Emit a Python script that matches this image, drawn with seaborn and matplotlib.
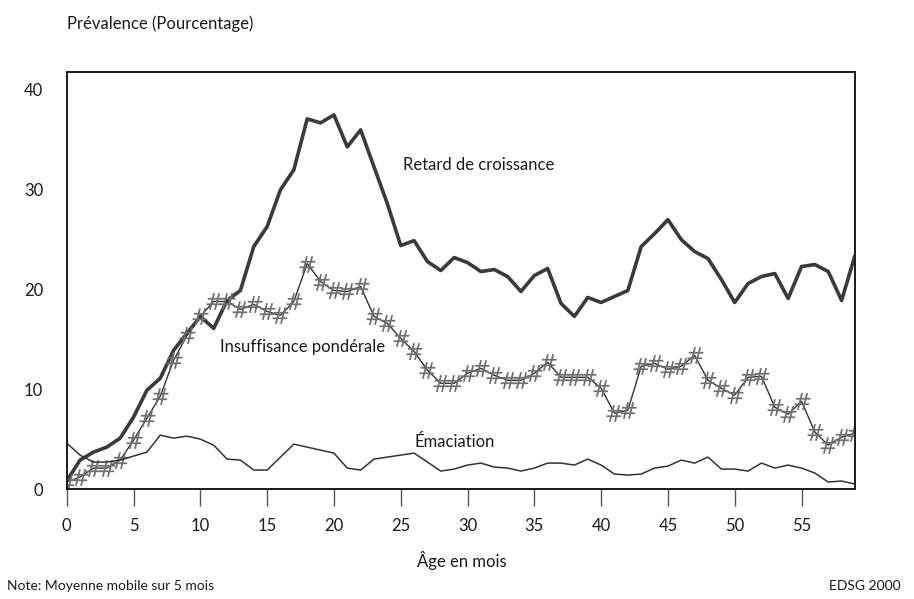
import numpy as np
import pandas as pd
import matplotlib
matplotlib.use("Agg")
import matplotlib.pyplot as plt
import seaborn as sns

months = list(range(0, 60))

retard = [0.8, 2.9, 3.7, 4.2, 5.1, 7.2, 9.9, 11.1, 13.9, 15.6,
          17.3, 16.1, 18.9, 19.9, 24.3, 26.3, 30.0, 32.0, 37.1, 36.7,
          37.5, 34.3, 36.0, 32.3, 28.6, 24.4, 24.9, 22.8, 21.9, 23.2,
          22.7, 21.8, 22.0, 21.3, 19.8, 21.4, 22.1, 18.6, 17.3, 19.2,
          18.7, 19.3, 19.9, 24.3, 25.6, 27.0, 25.0, 23.8, 23.1, 21.0,
          18.7, 20.6, 21.3, 21.6, 19.1, 22.3, 22.5, 21.8, 18.9, 23.4]

insuffisance = [0.7, 1.2, 2.1, 2.1, 2.9, 4.9, 7.1, 9.3, 12.9, 15.4,
                17.3, 18.8, 18.8, 18.0, 18.5, 17.8, 17.4, 18.8, 22.6, 20.8,
                19.9, 19.8, 20.3, 17.3, 16.6, 15.1, 13.8, 11.9, 10.6, 10.6,
                11.6, 12.1, 11.4, 10.9, 10.9, 11.6, 12.7, 11.2, 11.2, 11.2,
                10.1, 7.6, 7.9, 12.3, 12.6, 12.0, 12.3, 13.4, 10.9, 10.1,
                9.4, 11.2, 11.3, 8.2, 7.5, 8.8, 5.7, 4.4, 5.2, 5.6]

emaciation = [4.6, 3.4, 2.7, 2.7, 2.9, 3.3, 3.7, 5.4, 5.1, 5.3,
              5.0, 4.4, 3.0, 2.9, 1.9, 1.9, 3.2, 4.5, 4.2, 3.9,
              3.6, 2.1, 1.9, 3.0, 3.2, 3.4, 3.6, 2.7, 1.8, 2.0,
              2.4, 2.6, 2.2, 2.1, 1.8, 2.1, 2.6, 2.6, 2.4, 3.0,
              2.4, 1.5, 1.4, 1.5, 2.1, 2.3, 2.9, 2.6, 3.2, 2.0,
              2.0, 1.8, 2.6, 2.1, 2.4, 2.1, 1.6, 0.7, 0.8, 0.5]

x_ticks = [0, 5, 10, 15, 20, 25, 30, 35, 40, 45, 50, 55]
y_ticks = [0, 10, 20, 30, 40]

sns.set_style("white")
plt.rcParams['font.family'] = ['Lato', 'DejaVu Sans']

fig = plt.figure(figsize=(9.14, 5.99), dpi=100)
ax = fig.add_axes([0.073, 0.1836, 0.8624, 0.6962])

df = pd.DataFrame({"mois": months, "retard": retard,
                   "insuffisance": insuffisance, "emaciation": emaciation})

sns.lineplot(data=df, x="mois", y="retard", ax=ax, color="#3a3a3a",
             linewidth=2.6)
sns.lineplot(data=df, x="mois", y="insuffisance", ax=ax, color="#333333",
             linewidth=1.0, marker=r"$\#$", markersize=12,
             markeredgewidth=0.0, markerfacecolor="#707070",
             markeredgecolor="#707070")
sns.lineplot(data=df, x="mois", y="emaciation", ax=ax, color="#333333",
             linewidth=1.1)

ax.set_xlim(0, 59)
ax.set_ylim(0, 41.8)
ax.set_xticks(x_ticks)
ax.set_yticks(y_ticks)
ax.set_xlabel("")
ax.set_ylabel("")

ax.tick_params(axis="x", direction="out", length=12, width=1, color="#555555",
               pad=9, labelsize=12, labelcolor="#1a1a1a", bottom=True)
ax.tick_params(axis="y", length=0, pad=17, labelsize=12, labelcolor="#1a1a1a")

for s in ax.spines.values():
    s.set_visible(True)
    s.set_color("#1a1a1a")
    s.set_linewidth(1.4)

ax.text(25.2, 32.5, "Retard de croissance", fontsize=12, color="#1a1a1a",
        va="center", ha="left")
ax.text(11.5, 14.2, "Insuffisance pondérale", fontsize=12, color="#1a1a1a",
        va="center", ha="left")
ax.text(26.0, 4.7, "Émaciation", fontsize=12, color="#1a1a1a",
        va="center", ha="left")

fig.text(0.073, 0.96, "Prévalence (Pourcentage)", fontsize=12,
         color="#1a1a1a", ha="left", va="center")
fig.text(0.505, 0.065, "Âge en mois", fontsize=12, color="#1a1a1a",
         ha="center", va="center")
fig.text(0.008, 0.012, "Note: Moyenne mobile sur 5 mois", fontsize=10,
         color="#1a1a1a", ha="left", va="bottom")
fig.text(0.985, 0.012, "EDSG 2000", fontsize=10, color="#1a1a1a",
         ha="right", va="bottom")

fig.savefig("out.png", dpi=100)
